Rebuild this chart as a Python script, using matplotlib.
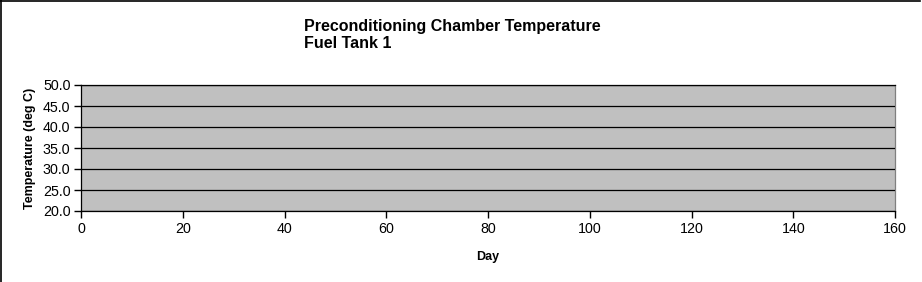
import matplotlib
matplotlib.use("Agg")
import matplotlib.pyplot as plt
from matplotlib.lines import Line2D

# Data (the reference chart shows no plotted series)
days = []
temps = []
x_ticks = [0, 20, 40, 60, 80, 100, 120, 140, 160]
y_ticks = [20.0, 25.0, 30.0, 35.0, 40.0, 45.0, 50.0]
title_lines = ["Preconditioning Chamber Temperature", "Fuel Tank 1"]

plt.rcParams['font.family'] = ['Liberation Sans', 'DejaVu Sans']

fig = plt.figure(figsize=(9.22, 2.82), dpi=100)
ax = fig.add_axes([81/922, 1-211/282, (895-81)/922, (211-85)/282])
ax.set_facecolor('#C0C0C0')
ax.plot(days, temps, color='#000080', lw=1)

ax.set_xlim(0, 160)
ax.set_ylim(20, 50)
ax.set_xticks(x_ticks)
ax.set_yticks(y_ticks)
ax.set_yticklabels([f"{v:.1f}" for v in y_ticks])
ax.tick_params(labelsize=10.3, length=5, width=1, color='black')
ax.tick_params(axis='x', pad=3)
ax.tick_params(axis='y', pad=2.5)
ax.yaxis.grid(True, color='black', lw=0.9)
ax.set_axisbelow(False)
for s in ax.spines.values():
    s.set_color('black'); s.set_linewidth(0.9)
ax.spines['right'].set_color('#808080')

ax.set_xlabel("Day", fontsize=9, fontweight='bold', labelpad=11)
ax.set_ylabel("Temperature (deg C)", fontsize=9, fontweight='bold', labelpad=5)

fig.text(304/922, 1-26/282, title_lines[0], fontsize=11.5, fontweight='bold', va='center', ha='left')
fig.text(304/922, 1-43/282, title_lines[1], fontsize=11.5, fontweight='bold', va='center', ha='left')

# figure border (top and left)
fig.add_artist(Line2D([0.5/922, 0.5/922], [0, 1], color='black', lw=1.2, transform=fig.transFigure))
fig.add_artist(Line2D([0, 920/922], [1-0.5/282, 1-0.5/282], color='black', lw=1.2, transform=fig.transFigure))

fig.savefig("out.png", dpi=100)
